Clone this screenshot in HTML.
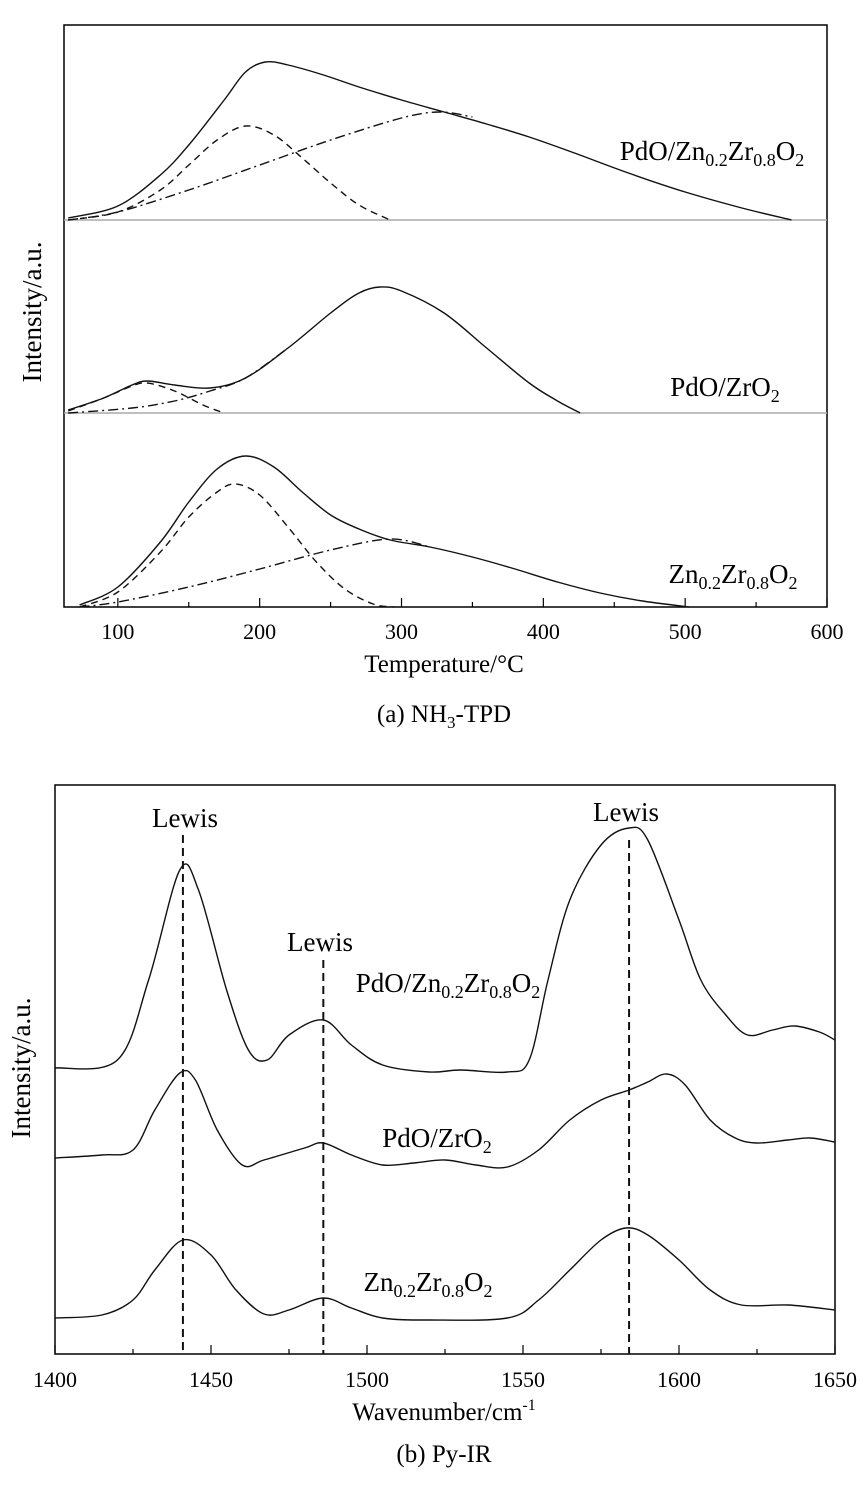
<!DOCTYPE html>
<html><head><meta charset="utf-8"><style>
body{margin:0;background:#fff;position:relative;}
svg{display:block;font-family:"Liberation Serif",serif;}
</style></head><body>
<svg id="fig" width="864" height="1498" viewBox="0 0 864 1498" xmlns="http://www.w3.org/2000/svg">
<g id="topChart"></g>
<g id="botChart"></g>
</svg>
<svg style="position:absolute;left:0;top:0" width="864" height="1498" xmlns="http://www.w3.org/2000/svg" font-family="Liberation Serif, serif">
<text x="712" y="160" font-size="27" text-anchor="middle">PdO/Zn<tspan font-size="18" dy="6">0.2</tspan><tspan dy="-6">Zr</tspan><tspan font-size="18" dy="6">0.8</tspan><tspan dy="-6">O</tspan><tspan font-size="18" dy="6">2</tspan></text>
<text x="725" y="396" font-size="27" text-anchor="middle">PdO/ZrO<tspan font-size="18" dy="6">2</tspan></text>
<text x="733" y="583" font-size="27" text-anchor="middle">Zn<tspan font-size="18" dy="6">0.2</tspan><tspan dy="-6">Zr</tspan><tspan font-size="18" dy="6">0.8</tspan><tspan dy="-6">O</tspan><tspan font-size="18" dy="6">2</tspan></text>
<text transform="translate(41,312) rotate(-90)" font-size="27" text-anchor="middle">Intensity/a.u.</text>
<text x="444" y="672" font-size="25" text-anchor="middle">Temperature/°C</text>
<text x="444" y="722" font-size="25" text-anchor="middle">(a) NH<tspan font-size="17" dy="6">3</tspan><tspan dy="-6">-TPD</tspan></text>
<text transform="translate(30,1068) rotate(-90)" font-size="27" text-anchor="middle">Intensity/a.u.</text>
<text x="444" y="1420" font-size="25" text-anchor="middle">Wavenumber/cm<tspan font-size="16" dy="-10">-1</tspan></text>
<text x="444" y="1462" font-size="25" text-anchor="middle">(b) Py-IR</text>
<text x="448" y="992" font-size="27" text-anchor="middle">PdO/Zn<tspan font-size="18" dy="6">0.2</tspan><tspan dy="-6">Zr</tspan><tspan font-size="18" dy="6">0.8</tspan><tspan dy="-6">O</tspan><tspan font-size="18" dy="6">2</tspan></text>
<text x="437" y="1147" font-size="27" text-anchor="middle">PdO/ZrO<tspan font-size="18" dy="6">2</tspan></text>
<text x="428" y="1291" font-size="27" text-anchor="middle">Zn<tspan font-size="18" dy="6">0.2</tspan><tspan dy="-6">Zr</tspan><tspan font-size="18" dy="6">0.8</tspan><tspan dy="-6">O</tspan><tspan font-size="18" dy="6">2</tspan></text>
<text x="185" y="827" font-size="27" text-anchor="middle">Lewis</text>
<text x="320" y="951" font-size="27" text-anchor="middle">Lewis</text>
<text x="626" y="821" font-size="27" text-anchor="middle">Lewis</text>
</svg>
<script>
// ---------- (a) NH3-TPD data (temperature °C, intensity a.u.) ----------
const tpdTicks=[100,200,300,400,500,600];
const tpdMinor=[150,250,350,450,550];
const s1Solid=[[65,2],[100,14],[130,45],[150,75],[175,120],[190,148],[204,158],[220,155],[245,145],[270,133],[300,120],[330,108],[360,96],[390,83],[420,68],[460,47],[500,28],[540,12],[575,0]];
const s1Dash=[[65,0],[100,8],[130,30],[150,55],[170,80],[190,94],[210,85],[230,62],[250,37],[270,15],[292,0]];
const s1DashDot=[[65,0],[100,8],[150,30],[200,55],[250,80],[300,102],[327,108],[350,103]];
const s2Solid=[[65,3],[90,15],[110,28],[121,32],[140,28],[165,25],[190,35],[220,65],[250,100],[270,120],[285,126],[300,122],[330,100],[360,65],[390,30],[410,12],[426,0]];
const s2Dash=[[65,2],[90,15],[110,27],[121,30],[140,22],[160,8],[175,0]];
const s2DashDot=[[65,0],[110,5],[140,12],[165,22],[190,35],[220,65]];
const s3Solid=[[73,2],[100,20],[130,65],[150,105],[170,138],[190,151],[210,140],[230,115],[250,92],[270,78],[292,67],[320,60],[350,50],[380,38],[410,25],[440,14],[470,6],[503,0]];
const s3Dash=[[73,0],[100,15],[130,55],[150,90],[170,115],[183,123],[200,112],[220,80],[240,45],[260,18],[280,3],[295,0]];
const s3DashDot=[[73,0],[100,5],[150,20],[200,38],[250,57],[292,68],[320,60]];
// ---------- (b) Py-IR data (wavenumber, intensity a.u.) ----------
const irTicks=[1400,1450,1500,1550,1600,1650];
const irMinor=[1425,1475,1525,1575,1625];
const irLewis=[1441,1486,1584];
const ir1=[[1400,286],[1420,294],[1430,374],[1440,484],[1446,464],[1455,364],[1462,304],[1468,294],[1475,319],[1486,334],[1495,309],[1505,289],[1520,282],[1530,284],[1545,282],[1552,294],[1558,374],[1565,454],[1575,509],[1584,526],[1590,514],[1600,434],[1607,374],[1615,339],[1622,319],[1630,324],[1637,328],[1645,322],[1650,314]];
const ir2=[[1400,196],[1415,199],[1425,204],[1432,244],[1440,281],[1445,274],[1452,224],[1460,189],[1467,194],[1480,206],[1486,211],[1495,199],[1505,189],[1515,191],[1525,194],[1535,189],[1545,187],[1555,204],[1565,234],[1575,254],[1584,264],[1590,272],[1596,280],[1602,269],[1610,234],[1618,216],[1625,211],[1635,214],[1642,216],[1650,212]];
const ir3=[[1400,36],[1415,39],[1425,54],[1432,84],[1441,114],[1450,99],[1458,64],[1467,40],[1475,44],[1486,56],[1495,46],[1505,36],[1520,34],[1545,36],[1555,54],[1565,84],[1575,114],[1583,126],[1590,119],[1600,94],[1610,64],[1620,49],[1635,49],[1650,44]];

const NS="http://www.w3.org/2000/svg";
function mk(parent,tag,attrs){const e=document.createElementNS(NS,tag);for(const k in attrs)e.setAttribute(k,attrs[k]);parent.appendChild(e);return e;}
function smooth(pts){let d="M"+pts[0][0].toFixed(1)+","+pts[0][1].toFixed(1);
 for(let i=0;i<pts.length-1;i++){const p0=pts[i-1]||pts[i],p1=pts[i],p2=pts[i+1],p3=pts[i+2]||p2;
  const c1=[p1[0]+(p2[0]-p0[0])/6,p1[1]+(p2[1]-p0[1])/6],c2=[p2[0]-(p3[0]-p1[0])/6,p2[1]-(p3[1]-p1[1])/6];
  d+="C"+c1.map(v=>v.toFixed(1)).join(",")+" "+c2.map(v=>v.toFixed(1)).join(",")+" "+p2.map(v=>v.toFixed(1)).join(",");}
 return d;}

// ---- top chart ----
const topG=document.getElementById('topChart');
const tx=t=>827-(600-t)*1.4183;
const TL=64,TR=827,TT=25,TB=607;
const base=[220,413,607];
const fr=mk(topG,'rect',{x:TL,y:TT,width:TR-TL,height:TB-TT,fill:'none',stroke:'#000','stroke-width':1.5});


[220,413].forEach((y,i)=>{const l=mk(topG,'line',{x1:TL,x2:TR,y1:y,y2:y,stroke:'#aaa','stroke-width':1.5});
 
 });
tpdTicks.forEach(t=>{const l=mk(topG,'line',{x1:tx(t),x2:tx(t),y1:TB,y2:TB-9,stroke:'#000','stroke-width':1.2});
 
 
 const tt=mk(topG,'text',{x:tx(t),y:TB+32,'font-size':22,'text-anchor':'middle'});tt.textContent=t;
 
 });
tpdMinor.forEach(t=>{const l=mk(topG,'line',{x1:tx(t),x2:tx(t),y1:TB,y2:TB-5,stroke:'#000','stroke-width':1.2});
 
 });
const series=[[s1Solid,s1Dash,s1DashDot],[s2Solid,s2Dash,s2DashDot],[s3Solid,s3Dash,s3DashDot]];
const styles=[null,'7,5','10,4,2,4'];
const kinds=['fitted','peak-low','peak-high'];
series.forEach((grp,i)=>grp.forEach((arr,j)=>{
 const p=mk(topG,'path',{d:smooth(arr.map(([t,v])=>[tx(t),base[i]-v])),fill:'none',stroke:'#111','stroke-width':1.4});
 if(styles[j])p.setAttribute('stroke-dasharray',styles[j]);
 
 }));

// ---- bottom chart ----
const botG=document.getElementById('botChart');
const bx=w=>55+(w-1400)*3.12;
const by=v=>1354-v;
const BL=55,BR=835,BT=785,BB=1354;
const fb=mk(botG,'rect',{x:BL,y:BT,width:BR-BL,height:BB-BT,fill:'none',stroke:'#000','stroke-width':1.5});


irTicks.forEach(w=>{const l=mk(botG,'line',{x1:bx(w),x2:bx(w),y1:BB,y2:BB-9,stroke:'#000','stroke-width':1.2});
 
 
 const t=mk(botG,'text',{x:bx(w),y:BB+33,'font-size':22,'text-anchor':'middle'});t.textContent=w;
 
 });
irMinor.forEach(w=>{const l=mk(botG,'line',{x1:bx(w),x2:bx(w),y1:BB,y2:BB-5,stroke:'#000','stroke-width':1.2});
 
 });
const lewisTop=[835,960,840];
irLewis.forEach((w,i)=>{const l=mk(botG,'line',{x1:bx(w),x2:bx(w),y1:lewisTop[i],y2:BB,stroke:'#111','stroke-width':2,'stroke-dasharray':'8,5'});
 
 });
[ir1,ir2,ir3].forEach((arr,i)=>{const p=mk(botG,'path',{d:smooth(arr.map(([w,v])=>[bx(w),by(v)])),fill:'none',stroke:'#111','stroke-width':1.4});
 
 });
</script>
</body></html>
